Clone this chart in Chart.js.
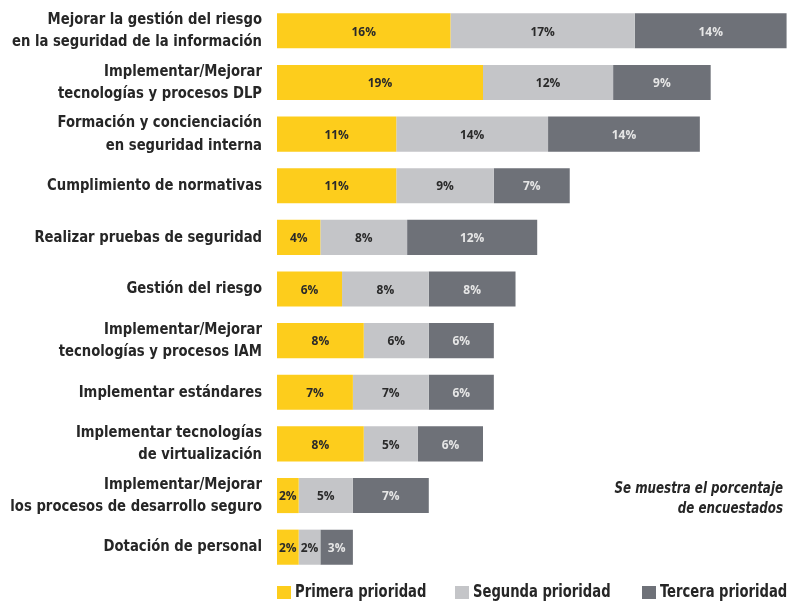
<!DOCTYPE html>
<html>
<head>
<meta charset="utf-8">
<script src="https://cdn.jsdelivr.net/npm/chart.js@4.4.1/dist/chart.umd.min.js"></script>
<style>
html,body{margin:0;padding:0;background:#fff;}
#wrap{width:793px;height:601px;position:relative;}
</style>
</head>
<body>
<div id="wrap"><canvas id="c" width="793" height="601"></canvas></div>
<script>
const categories = [
  ["Mejorar la gestión del riesgo", "en la seguridad de la información"],
  ["Implementar/Mejorar", "tecnologías y procesos DLP"],
  ["Formación y concienciación", "en seguridad interna"],
  "Cumplimiento de normativas",
  "Realizar pruebas de seguridad",
  "Gestión del riesgo",
  ["Implementar/Mejorar", "tecnologías y procesos IAM"],
  "Implementar estándares",
  ["Implementar tecnologías", "de virtualización"],
  ["Implementar/Mejorar", "los procesos de desarrollo seguro"],
  "Dotación de personal"
];
const seriesNames = ["Primera prioridad", "Segunda prioridad", "Tercera prioridad"];
const primera = [16, 19, 11, 11, 4, 6, 8, 7, 8, 2, 2];
const segunda = [17, 12, 14, 9, 8, 8, 6, 7, 5, 5, 2];
const tercera = [14, 9, 14, 7, 12, 8, 6, 6, 6, 7, 3];
const noteLines = ["Se muestra el porcentaje", "de encuestados"];

const LABEL_FONT = '"DejaVu Sans Condensed", "DejaVu Sans", sans-serif';
const NARROW = 0.89;
const colors = ["#FDCD1C", "#C4C5C8", "#6E7178"];
const labelColors = ["#2a2a2a", "#2a2a2a", "#e6e6e6"];
const TEXT = '#262626';

const valueLabels = {
  id: 'valueLabels',
  afterDatasetsDraw(chart) {
    const ctx = chart.ctx;
    ctx.save();
    ctx.font = 'bold 13px "Open Sans", "DejaVu Sans", sans-serif';
    ctx.textAlign = 'center';
    ctx.textBaseline = 'middle';
    chart.data.datasets.forEach((ds, di) => {
      const meta = chart.getDatasetMeta(di);
      meta.data.forEach((el, i) => {
        const p = el.getProps(['x', 'y', 'base'], true);
        ctx.fillStyle = labelColors[di];
        const cx = (p.x + p.base) / 2;
        ctx.save();
        ctx.translate(cx, 0); ctx.scale(0.92, 1); ctx.translate(-cx, 0);
        ctx.fillText(ds.data[i] + '%', cx, p.y + 1);
        ctx.restore();
      });
    });
    ctx.restore();
  }
};

function narrowText(ctx, text, x, y, f) {
  ctx.save();
  ctx.translate(x, 0); ctx.scale(f, 1); ctx.translate(-x, 0);
  ctx.fillText(text, x, y);
  ctx.restore();
}

const noteAndLegend = {
  id: 'noteAndLegend',
  afterDraw(chart) {
    const ctx = chart.ctx;
    ctx.save();
    // note
    ctx.font = 'italic bold 15px ' + LABEL_FONT;
    ctx.fillStyle = TEXT;
    ctx.textAlign = 'right';
    ctx.textBaseline = 'middle';
    narrowText(ctx, noteLines[0], 783, 489, 0.88);
    narrowText(ctx, noteLines[1], 783, 509, 0.88);
    // legend
    const boxX = [277, 455, 642];
    ctx.font = 'bold 17px ' + LABEL_FONT;
    ctx.textAlign = 'left';
    chart.data.datasets.forEach((ds, i) => {
      ctx.fillStyle = ds.backgroundColor;
      ctx.fillRect(boxX[i], 586, 14, 13);
      ctx.fillStyle = TEXT;
      narrowText(ctx, ds.label, boxX[i] + 18, 593, 0.86);
    });
    ctx.restore();
  }
};

new Chart(document.getElementById('c'), {
  type: 'bar',
  data: {
    labels: categories,
    datasets: [
      { label: seriesNames[0], data: primera, backgroundColor: colors[0] },
      { label: seriesNames[1], data: segunda, backgroundColor: colors[1] },
      { label: seriesNames[2], data: tercera, backgroundColor: colors[2] }
    ]
  },
  options: {
    indexAxis: 'y',
    responsive: false,
    animation: false,
    layout: { padding: { top: 5, right: 1, left: 0, bottom: 28 } },
    datasets: { bar: { categoryPercentage: 0.68, barPercentage: 1.0 } },
    scales: {
      x: { stacked: true, min: 0, max: 47.5, display: false },
      y: {
        stacked: true,
        grid: { display: false },
        border: { display: false },
        ticks: {
          color: TEXT,
          padding: 7,
          font: { family: LABEL_FONT, size: 16.5, weight: 'bold', lineHeight: 1.35 }
        },
        afterFit(scale) {
          scale.width = 277;
          scale.paddingTop = 0;
          scale.paddingBottom = 0;
          if (!scale._narrowPatched) {
            scale._narrowPatched = true;
            const orig = scale.drawLabels;
            scale.drawLabels = function (area) {
              const ctx = this.ctx;
              const x0 = this.right - 15;
              const savedLeft = this.left;
              this.left = -600;
              ctx.save();
              ctx.translate(x0, 0); ctx.scale(NARROW, 1); ctx.translate(-x0, 0);
              orig.call(this, area);
              ctx.restore();
              this.left = savedLeft;
            };
          }
        }
      }
    },
    plugins: {
      tooltip: { enabled: false },
      legend: { display: false }
    }
  },
  plugins: [valueLabels, noteAndLegend]
});
</script>
</body>
</html>
